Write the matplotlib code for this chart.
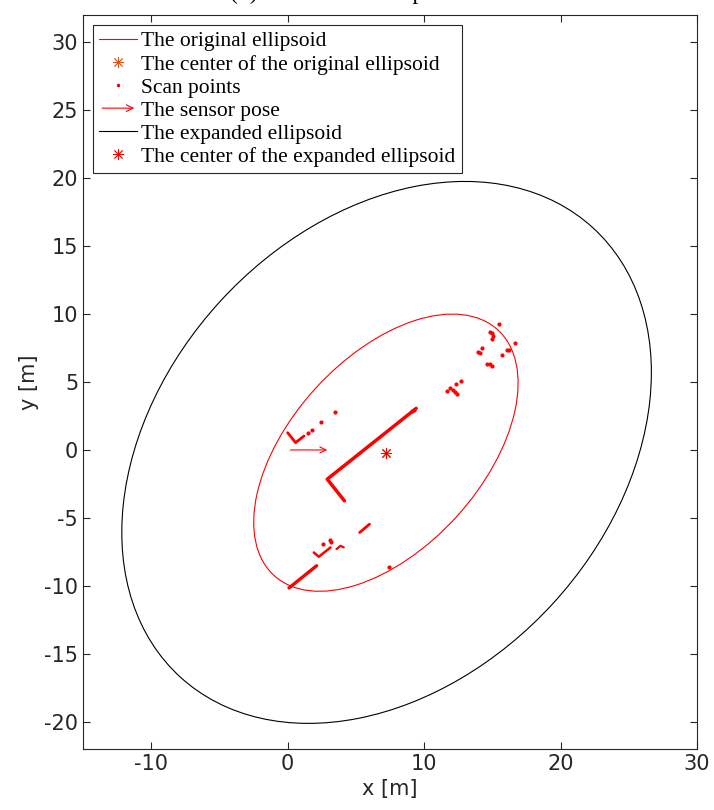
# Ellipsoid expansion around a laser scan

import matplotlib.pyplot as plt
from matplotlib.patches import Ellipse, FancyArrowPatch
from matplotlib.legend_handler import HandlerBase
from matplotlib.lines import Line2D

plt.rcParams['axes.unicode_minus'] = False

# ellipses: center, semi axes, tilt (deg)
orig_center = (7.2, -0.2)
orig_axes = (12.2, 7.0)
orig_angle = 47.9
exp_center = (7.25, -0.18)
exp_axes = (22.4, 16.5)
exp_angle = 47.6

# sensor pose: position and heading vector
pose_xy = (0.0, 0.0)
pose_dir = (3.1, 0.0)

# dense wall segments of the scan (polyline vertices)
walls = [
    ([0.0, 0.58, 1.2], [1.27, 0.54, 1.03]),
    ([4.16, 2.9, 9.42], [-3.74, -2.15, 3.06]),
    ([0.1, 2.12], [-10.15, -8.52]),
    ([1.92, 2.28, 3.14], [-7.54, -7.86, -7.17]),
    ([3.58, 3.87, 4.11], [-7.29, -7.05, -7.17]),
    ([5.28, 6.0], [-6.07, -5.46]),
]
wall_widths = [2.0, 2.5, 2.4, 1.8, 1.6, 2.0]

# isolated scan returns
scan_x = [1.48, 1.8, 2.46, 3.45, 2.6, 3.07, 3.19, 7.4,
          11.66, 11.9, 12.14, 12.26, 12.39, 12.34, 12.68,
          13.97, 14.09, 14.26, 14.62, 14.82, 14.94,
          14.82, 14.94, 15.06, 15.01, 15.5,
          15.74, 16.08, 16.2, 16.64, 9.1, 9.25]
scan_y = [1.22, 1.47, 2.03, 2.81, -6.93, -6.63, -6.8, -8.64,
          4.33, 4.53, 4.38, 4.28, 4.13, 4.82, 5.07,
          7.22, 7.14, 7.51, 6.36, 6.29, 6.17,
          8.69, 8.57, 8.42, 8.13, 9.27,
          6.97, 7.39, 7.32, 7.88, 2.85, 2.97]

labels = ['The original ellipsoid', 'The center of the original ellipsoid',
          'Scan points', 'The sensor pose', 'The expanded ellipsoid',
          'The center of the expanded ellipsoid']

axcol = '#262626'
orange = '#D95319'
asterisk = (8, 2, 0)


class ArrowHandler(HandlerBase):
    def create_artists(self, legend, orig_handle, xdescent, ydescent,
                       width, height, fontsize, trans):
        y = height / 2 - ydescent
        a = FancyArrowPatch((-xdescent, y), (width - xdescent, y),
                            arrowstyle='->', mutation_scale=12,
                            color='red', lw=0.8, transform=trans)
        return [a]


fig = plt.figure(figsize=(7.14, 8.10), dpi=100)
ax = fig.add_axes([83 / 714, 1 - 749 / 810, 614 / 714, 734 / 810])

e1 = Ellipse(orig_center, 2 * orig_axes[0], 2 * orig_axes[1], angle=orig_angle,
             fill=False, edgecolor='red', lw=0.8)
ax.add_patch(e1)
c1, = ax.plot(*orig_center, ls='none', marker=asterisk, ms=8, mew=0.6,
              color=orange)

for (wx, wy), lw in zip(walls, wall_widths):
    ax.plot(wx, wy, color='red', lw=lw, solid_capstyle='round')
ax.plot(scan_x, scan_y, ls='none', marker='.', ms=4, color='red')

arrow = FancyArrowPatch(pose_xy, (pose_xy[0] + pose_dir[0], pose_xy[1] + pose_dir[1]),
                        arrowstyle='->', mutation_scale=11, color='red', lw=0.8)
ax.add_patch(arrow)

e2 = Ellipse(exp_center, 2 * exp_axes[0], 2 * exp_axes[1], angle=exp_angle,
             fill=False, edgecolor='black', lw=0.8)
ax.add_patch(e2)
c2, = ax.plot(*orig_center, ls='none', marker=asterisk, ms=8, mew=0.6,
              color='red')

h1 = Line2D([], [], color='red', lw=0.8)
h3 = Line2D([], [], ls='none', marker='.', ms=3, color='red')
h5 = Line2D([], [], color='black', lw=0.8)
leg = ax.legend([h1, c1, h3, arrow, h5, c2], labels, loc='upper left',
                handler_map={FancyArrowPatch: ArrowHandler()},
                prop={'family': 'Liberation Serif', 'size': 15.5},
                fancybox=False, framealpha=1, edgecolor=axcol,
                borderaxespad=0.48, handlelength=1.75, handletextpad=0.2,
                labelspacing=0.14, borderpad=0.28)
leg.get_frame().set_linewidth(0.8)

ax.set_xlim(-15, 30)
ax.set_ylim(-22, 32)
ax.set_xticks([-10, 0, 10, 20, 30])
ax.set_yticks(range(-20, 31, 5))
ax.tick_params(direction='in', top=True, right=True, length=5, width=0.8,
               colors=axcol, labelsize=15)
for s in ax.spines.values():
    s.set_color(axcol)
    s.set_linewidth(0.8)
ax.set_xlabel('x [m]', fontsize=15, color=axcol, labelpad=4)
ax.set_ylabel('y [m]', fontsize=15, color=axcol, labelpad=4)

# title sits above the figure edge, only its descenders show (as in the source)
fig.text(230 / 714, 1 + 1 / 810, '(b) Result of the expansion',
         family='Liberation Serif', fontsize=17, va='baseline', ha='left')

fig.savefig('out.png', dpi=100)
